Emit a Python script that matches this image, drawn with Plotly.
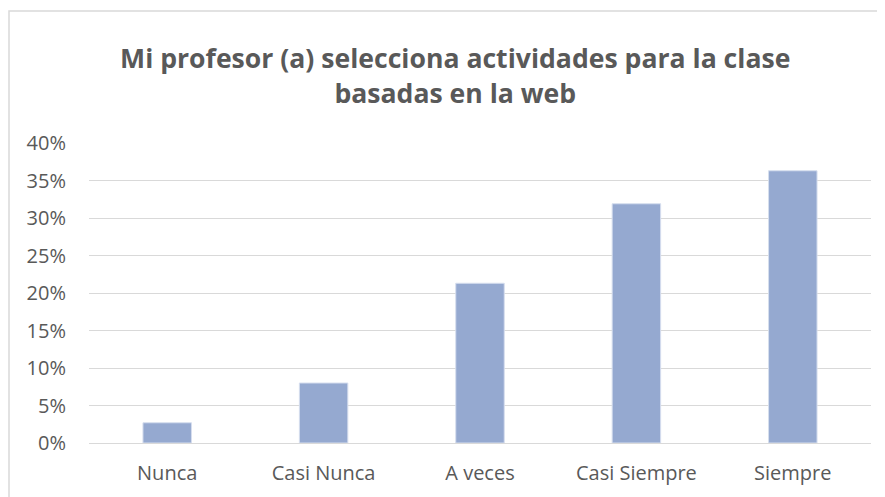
import plotly.graph_objects as go

categories = ["Nunca", "Casi Nunca", "A veces", "Casi Siempre", "Siempre"]
values = [0.027, 0.080, 0.213, 0.319, 0.363]
tick_vals = [0, 0.05, 0.10, 0.15, 0.20, 0.25, 0.30, 0.35, 0.40]
tick_text = ["0%", "5%", "10%", "15%", "20%", "25%", "30%", "35%", "40%"]
title_text = "Mi profesor (a) selecciona actividades para la clase<br>basadas en la web"

fig = go.Figure()
fig.add_trace(go.Bar(
    x=categories, y=values,
    marker=dict(color="#95A9D0", line=dict(color="#D6DEEE", width=1)),
    width=0.31,
))

font_family = "Open Sans, Liberation Sans, sans-serif"
fig.update_layout(
    width=877, height=489,
    margin=dict(l=81, r=14, t=135, b=54),
    paper_bgcolor="white", plot_bgcolor="white",
    showlegend=False,
    title=dict(text="<b>" + title_text + "</b>", x=0.51, xanchor="center",
               y=0.877, yanchor="middle",
               font=dict(family=font_family, size=26.6, color="#595959")),
    font=dict(family=font_family, size=20, color="#595959"),
    xaxis=dict(showgrid=False, showline=True, linecolor="#D9D9D9", linewidth=1,
               ticks="", ticklabelstandoff=12,
               tickfont=dict(size=20, color="#595959")),
    yaxis=dict(range=[0, 0.4], tickvals=tick_vals, ticktext=tick_text,
               showgrid=True, gridcolor="#D9D9D9", gridwidth=1,
               zeroline=False, showline=False, ticks="",
               ticklabelstandoff=22,
               tickfont=dict(size=20, color="#595959")),
    shapes=[dict(type="rect", xref="paper", yref="paper",
                 x0=-0.1023, x1=1.03, y0=-0.25, y1=1.44,
                 line=dict(color="#D9D9D9", width=1.5), fillcolor="rgba(0,0,0,0)",
                 layer="below")],
)

fig.write_html("out.html")
